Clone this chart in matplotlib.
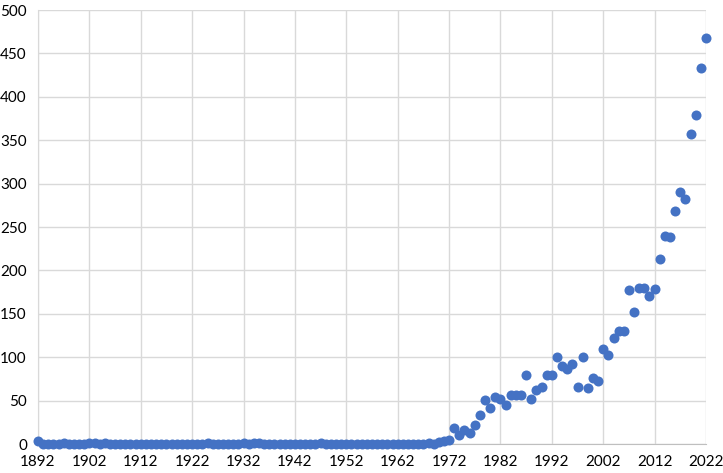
import matplotlib.pyplot as plt

# -----------------------------
# DATA (yearly counts)
# -----------------------------
years = list(range(1892, 2023))

counts_early = [
    3, 0, 0, 0, 0, 1, 0, 0, 0, 0,   # 1892-1901
    1, 1, 0, 1, 0, 0, 0, 0, 0, 0,   # 1902-1911
    0, 0, 0, 0, 0, 0, 0, 0, 0, 0,   # 1912-1921
    0, 0, 0, 1, 0, 0, 0, 0, 0, 0,   # 1922-1931
    1, 0, 1, 1, 0, 0, 0, 0, 0, 0,   # 1932-1941
    0, 0, 0, 0, 0, 1, 0, 0, 0, 0,   # 1942-1951
    0, 0, 0, 0, 0, 0, 0, 0, 0, 0,   # 1952-1961
    0, 0, 0, 0, 0, 0, 1, 0,         # 1962-1969
]
counts_late = [
    2, 3, 5, 18, 10, 16, 13, 22, 33, 51,          # 1970-1979
    41, 54, 52, 45, 56, 56, 56, 79, 52, 62,       # 1980-1989
    66, 80, 79, 100, 90, 86, 92, 66, 100, 65,     # 1990-1999
    76, 73, 110, 102, 122, 130, 130, 177, 152, 180,  # 2000-2009
    180, 170, 179, 213, 240, 238, 269, 290, 282, 357,  # 2010-2019
    379, 433, 468,                                # 2020-2022
]
counts = counts_early + counts_late

x_ticks = list(range(1892, 2023, 10))
y_ticks = list(range(0, 501, 50))

# -----------------------------
# PLOT
# -----------------------------
plt.rcParams["font.family"] = ["Lato", "DejaVu Sans"]

fig = plt.figure(figsize=(7.23, 4.73), dpi=100)
ax = fig.add_axes([38 / 723, 29 / 473, 668 / 723, 434 / 473])

ax.scatter(years, counts, s=52, color="#4472C4", zorder=3, clip_on=False,
           linewidths=0)

ax.set_xlim(1892, 2022)
ax.set_ylim(0, 500)
ax.set_xticks(x_ticks)
ax.set_yticks(y_ticks)

ax.grid(True, color="#d9d9d9", linewidth=1)
ax.set_axisbelow(True)
for side in ["top", "right"]:
    ax.spines[side].set_visible(False)
ax.spines["left"].set_color("#d9d9d9")
ax.spines["bottom"].set_color("#bfbfbf")

ax.tick_params(axis="both", length=0, labelsize=11, labelcolor="#000000")
ax.tick_params(axis="x", pad=8)
ax.tick_params(axis="y", pad=8)

fig.savefig("out.png", dpi=100)
